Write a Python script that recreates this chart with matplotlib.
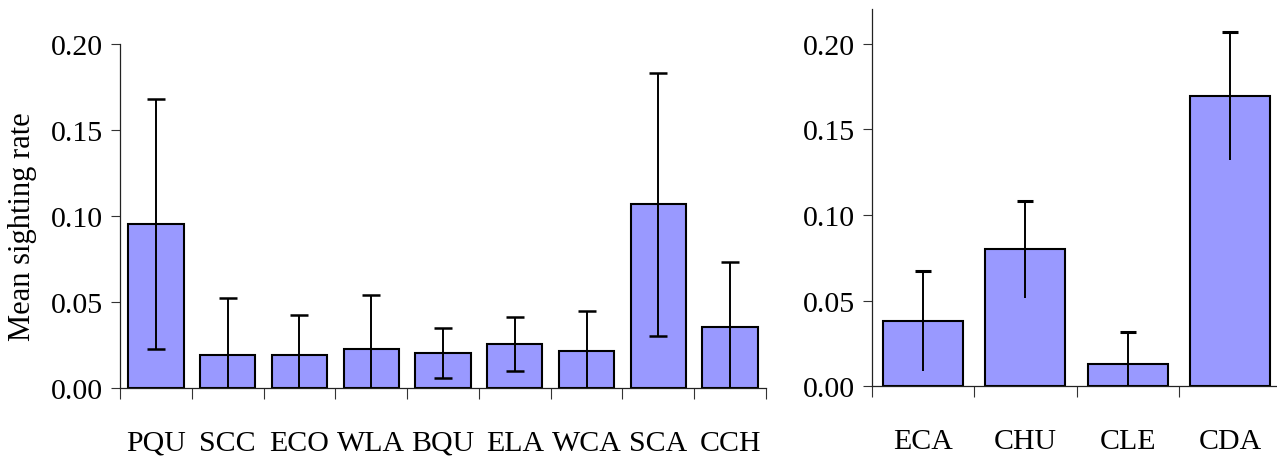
import matplotlib
matplotlib.use("Agg")
import matplotlib.pyplot as plt
import numpy as np

# ---- data ----
left_cats = ["PQU", "SCC", "ECO", "WLA", "BQU", "ELA", "WCA", "SCA", "CCH"]
left_vals = [0.0952, 0.019, 0.019, 0.0227, 0.0202, 0.0254, 0.0217, 0.1068, 0.0356]
left_errs = [0.0726, 0.0333, 0.0232, 0.0316, 0.0144, 0.0157, 0.0229, 0.0764, 0.0377]

right_cats = ["ECA", "CHU", "CLE", "CDA"]
right_vals = [0.0381, 0.0800, 0.0128, 0.1695]
right_errs = [0.0292, 0.0284, 0.0187, 0.0374]

yticks = [0.00, 0.05, 0.10, 0.15, 0.20]
ytick_labels = ["0.00", "0.05", "0.10", "0.15", "0.20"]

plt.rcParams["font.family"] = ["Liberation Serif", "DejaVu Serif"]

BAR = "#9999ff"
W, H = 1277, 464
fig = plt.figure(figsize=(W / 100, H / 100), dpi=100)

ax1 = fig.add_axes([120 / W, (H - 389) / H, 646 / W, (389 - 44.7) / H])
ax2 = fig.add_axes([872 / W, (H - 387.3) / H, 409 / W, (387.3 - 10.4) / H])


def style(ax, cats, ylim):
    n = len(cats)
    ax.set_xlim(0, n)
    ax.set_ylim(*ylim)
    for s in ["top", "right"]:
        ax.spines[s].set_visible(False)
    for s in ["left", "bottom"]:
        ax.spines[s].set_linewidth(0.9)
        ax.spines[s].set_color("#222222")
    ax.set_yticks(yticks)
    ax.set_yticklabels(ytick_labels)
    ax.tick_params(axis="y", direction="out", length=6.5, width=0.8,
                   color="#333333", labelsize=21.5, pad=6)
    ax.set_xticks(np.arange(n + 1))
    ax.set_xticklabels([])
    ax.tick_params(axis="x", which="major", direction="out", length=8,
                   width=0.8, color="#333333")
    ax.set_xticks(np.arange(n) + 0.5, minor=True)
    ax.set_xticklabels(cats, minor=True)
    ax.tick_params(axis="x", which="minor", length=0, labelsize=21.5, pad=30)


# left panel
x1 = np.arange(len(left_cats)) + 0.5
ax1.bar(x1, left_vals, width=0.77, color=BAR, edgecolor="black",
        linewidth=1.5, zorder=2)
ax1.errorbar(x1, left_vals, yerr=left_errs, fmt="none", ecolor="black",
             elinewidth=1.4, capsize=6.5, capthick=1.8, zorder=3)
style(ax1, left_cats, (0, 0.20))
ax1.set_ylabel("Mean sighting rate", fontsize=22)
ax1.yaxis.set_label_coords(-0.128, 0.47)

# right panel (caps only on upper end)
x2 = np.arange(len(right_cats)) + 0.5
ax2.bar(x2, right_vals, width=0.78, color=BAR, edgecolor="black",
        linewidth=1.5, zorder=2)
ax2.errorbar(x2, right_vals, yerr=right_errs, fmt="none", ecolor="black",
             elinewidth=1.4, capsize=0, zorder=3)
ax2.plot(x2, np.array(right_vals) + np.array(right_errs), linestyle="none",
         marker="_", markersize=11, markeredgewidth=2.2, color="black",
         zorder=4, clip_on=False)
style(ax2, right_cats, (0, 0.22))

fig.savefig("out.png", dpi=100)
